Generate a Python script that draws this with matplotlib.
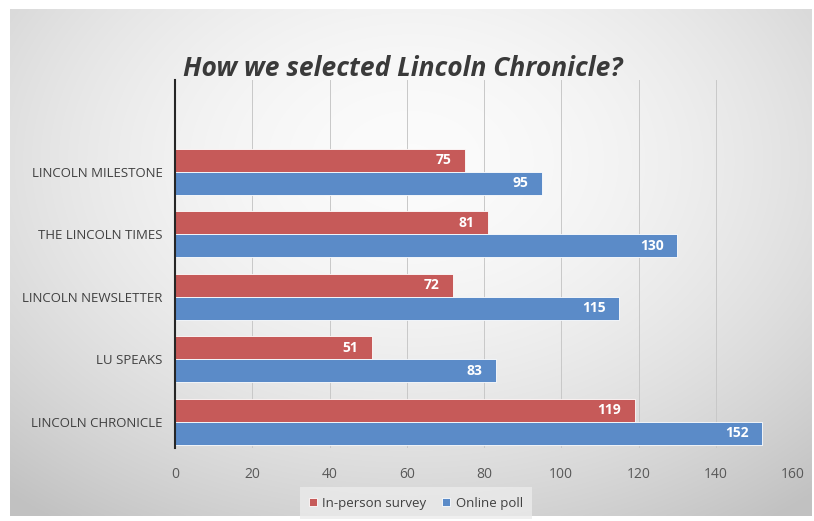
import numpy as np
import matplotlib
matplotlib.use("Agg")
import matplotlib.pyplot as plt

categories = ["LINCOLN CHRONICLE", "LU SPEAKS", "LINCOLN NEWSLETTER", "THE LINCOLN TIMES", "LINCOLN MILESTONE"]
in_person = [119, 51, 72, 81, 75]
online = [152, 83, 115, 130, 95]
xticks = [0, 20, 40, 60, 80, 100, 120, 140, 160]
title = "How we selected Lincoln Chronicle?"
series_names = ["In-person survey", "Online poll"]

RED = "#C65A59"
BLUE = "#5B8BC8"
FONT = "Open Sans"

W, H = 814, 521
fig = plt.figure(figsize=(W/100, H/100), dpi=100)
fig.patch.set_facecolor("white")

# background panel with radial gradient
bx0, by0, bx1, by1 = 10, 9, 812, 516
bg = fig.add_axes([bx0/W, 1-by1/H, (bx1-bx0)/W, (by1-by0)/H])
yy, xx = np.mgrid[-1:1:300j, -1:1:500j]
r = np.sqrt((xx*0.85)**2 + (yy*0.75 + 0.3)**2)
val = 0.985 - 0.14*np.clip(r, 0, 1.3)**1.8
bg.imshow(np.dstack([val, val, val]), aspect="auto", extent=[0, 1, 0, 1], interpolation="bilinear")
bg.set_axis_off()

ax = fig.add_axes([175/W, 1-448/H, (793-175)/W, (448-80)/H])
ax.set_facecolor("none")
y = np.arange(len(categories))
h = 0.37
ax.barh(y + h/2, in_person, height=h, color=RED, edgecolor="white", linewidth=0.6, zorder=3, label=series_names[0])
ax.barh(y - h/2, online, height=h, color=BLUE, edgecolor="white", linewidth=0.6, zorder=3, label=series_names[1])

for yi, v in zip(y, in_person):
    ax.text(v - 3.5, yi + h/2, str(v), ha="right", va="center", color="white", fontsize=10,
            fontweight="bold", zorder=4, family=FONT)
for yi, v in zip(y, online):
    ax.text(v - 3.5, yi - h/2, str(v), ha="right", va="center", color="white", fontsize=10,
            fontweight="bold", zorder=4, family=FONT)

ax.set_xlim(0, 160)
ax.set_ylim(-0.42, 5.47)
ax.set_xticks(xticks)
ax.set_xticklabels([str(t) for t in xticks], color="#595959", fontsize=10, family=FONT)
ax.set_yticks(y)
ax.set_yticklabels(categories, color="#404040", fontsize=9.5, family=FONT)
ax.tick_params(axis="both", length=0)
ax.tick_params(axis="x", pad=14)
ax.tick_params(axis="y", pad=9)
ax.grid(axis="x", color="#C8C8C8", linewidth=0.7, zorder=0)
for s in ["top", "right", "bottom"]:
    ax.spines[s].set_visible(False)
ax.spines["left"].set_color("#262626")
ax.spines["left"].set_linewidth(1.5)
ax.spines["left"].set_zorder(5)

fig.text(183/W, 1-68/H, title, fontsize=19, fontstyle="italic", fontweight="bold",
         color="#3A3A3A", ha="left", va="center", family=FONT)

leg = fig.legend(loc="center", bbox_to_anchor=(416/W, 1-503/H), ncol=2, frameon=True,
                 prop={"family": FONT, "size": 9.5}, handlelength=0.6, handleheight=0.6,
                 handletextpad=0.4, columnspacing=1.2, borderpad=0.5)
leg.get_frame().set_facecolor("#EBEBEB")
leg.get_frame().set_edgecolor("none")
leg.get_frame().set_boxstyle("square", pad=0.2)
for t in leg.get_texts():
    t.set_color("#404040")

fig.savefig("out.png", dpi=100)
